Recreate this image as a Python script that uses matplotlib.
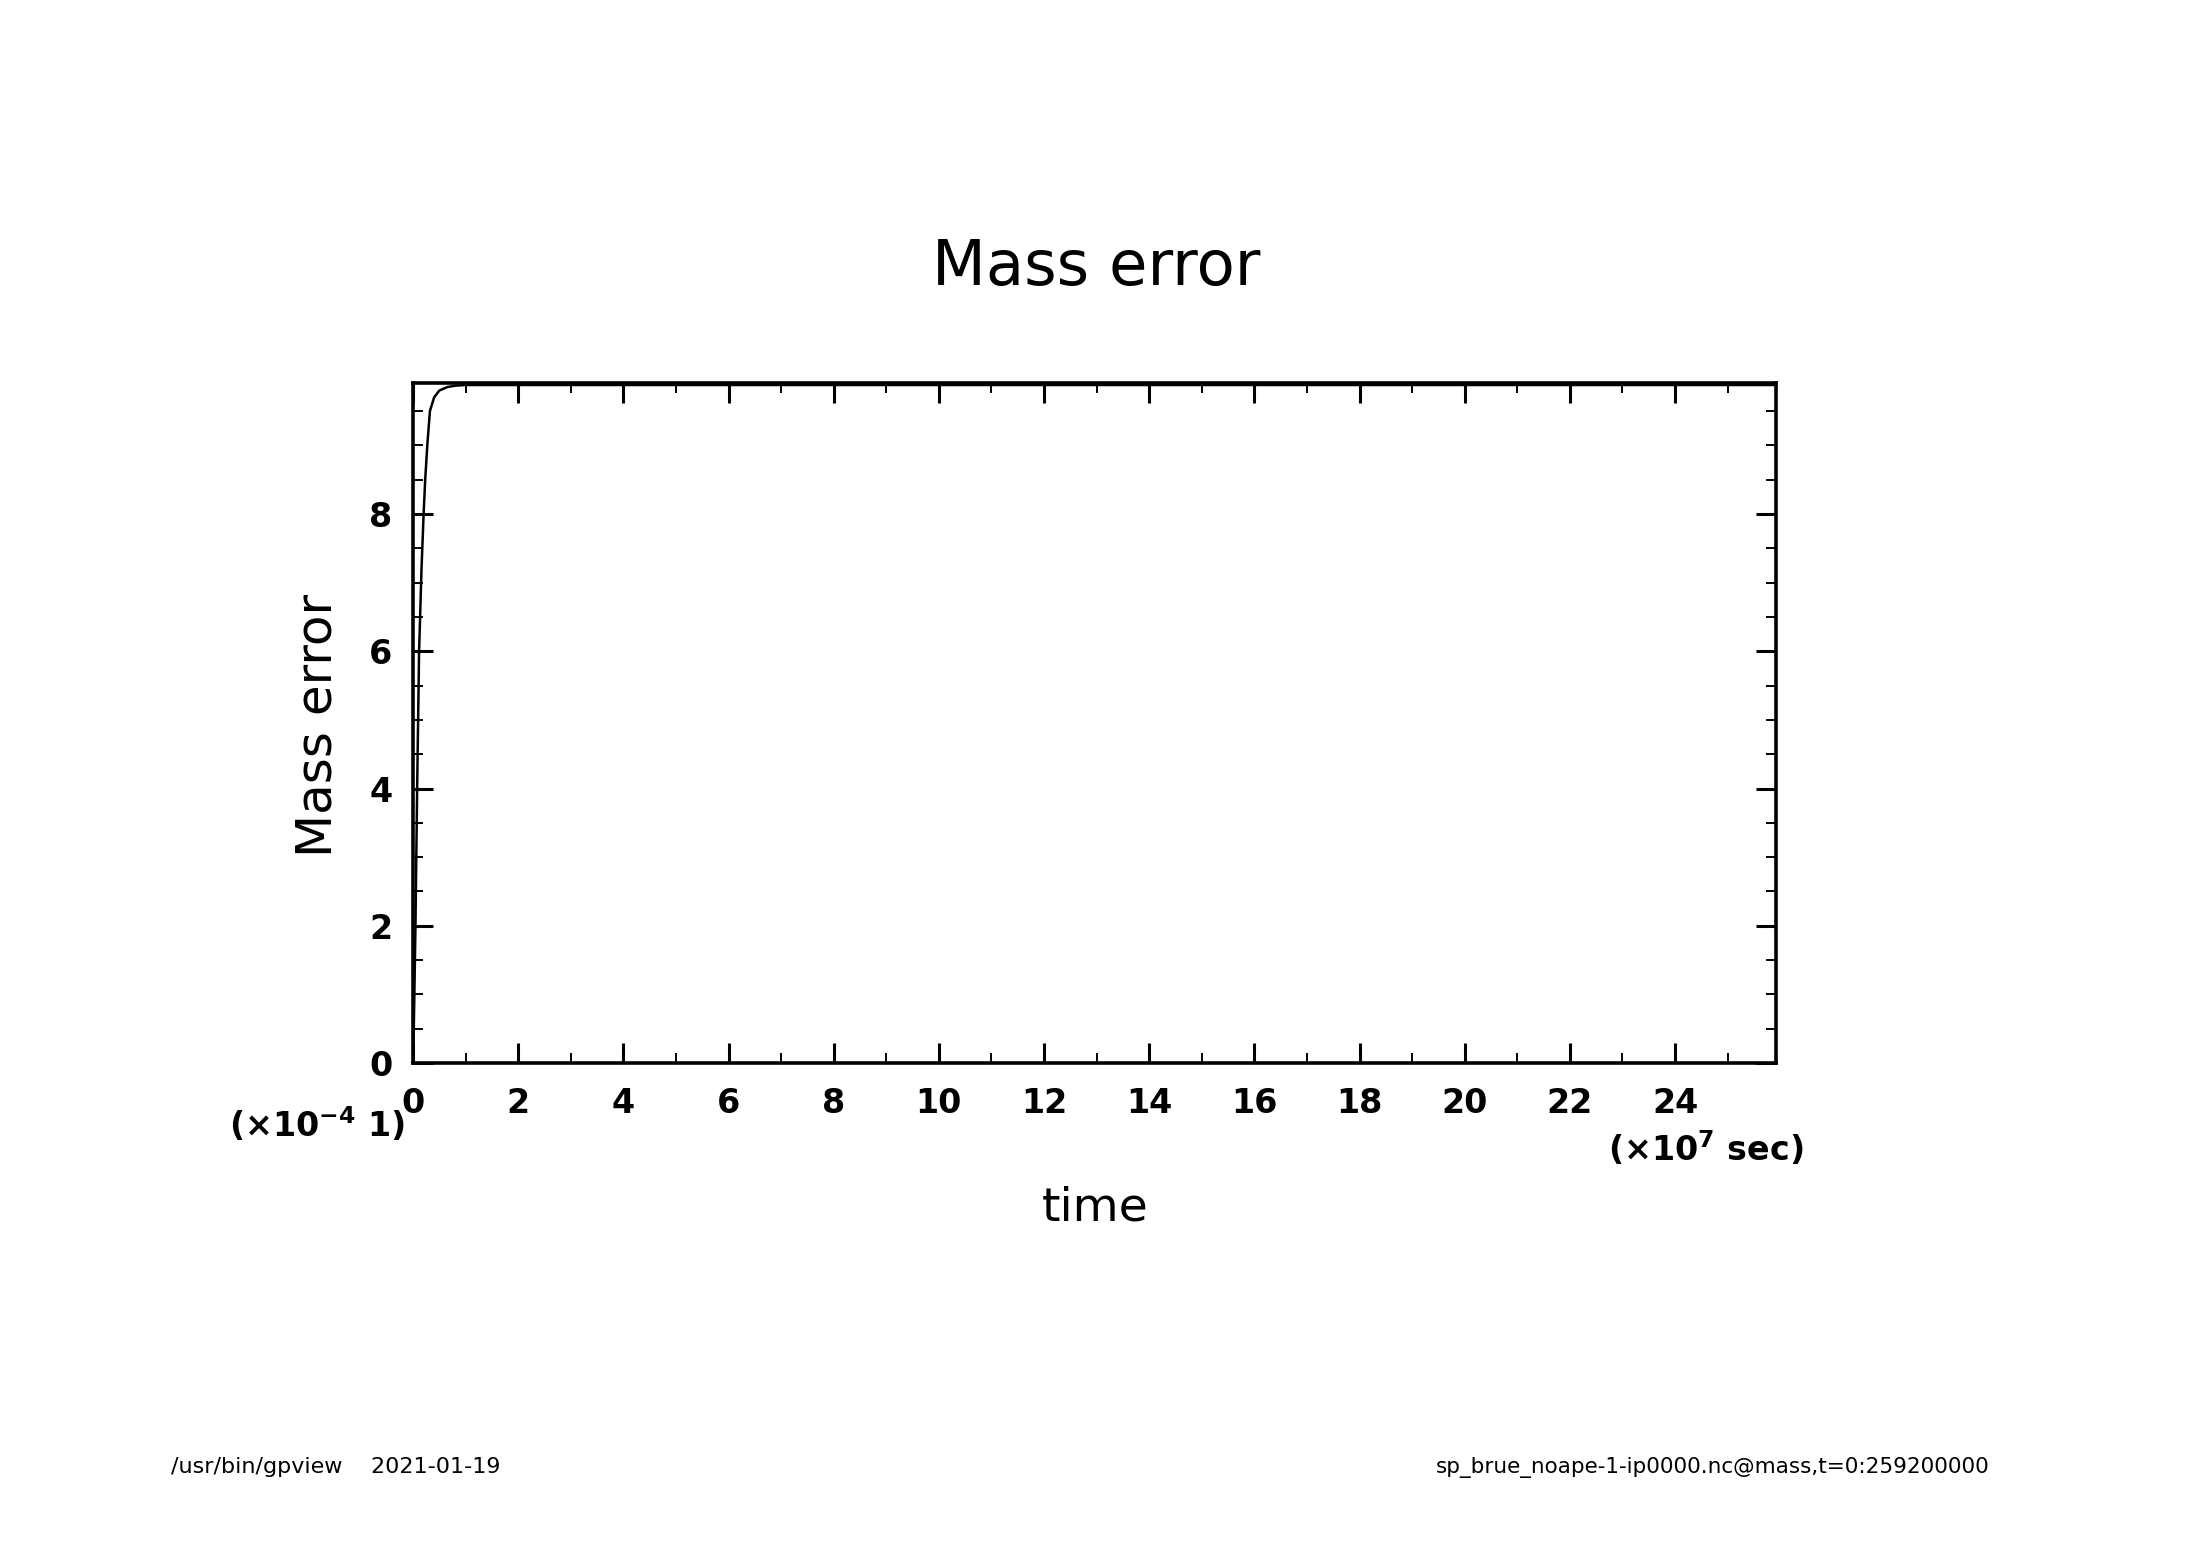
import matplotlib
matplotlib.use("Agg")
import matplotlib.pyplot as plt
from matplotlib.ticker import MultipleLocator

# time in units of 1e7 sec, mass error in units of 1e-4
time_1e7 = [0.0, 0.02, 0.045, 0.077, 0.114, 0.16, 0.2, 0.23, 0.27, 0.32,
            0.4, 0.5, 0.65, 0.8, 1.0, 2.0, 4.0, 8.0, 12.0, 16.0, 20.0, 24.0, 25.92]
mass_err_1e4 = [0.0, 0.8, 2.0, 4.0, 6.0, 7.2, 8.0, 8.5, 9.0, 9.5,
                9.7, 9.8, 9.85, 9.87, 9.88, 9.88, 9.88, 9.88, 9.88, 9.88, 9.88, 9.88, 9.88]

x_major = list(range(0, 26, 2))
y_major = [0, 2, 4, 6, 8]

plt.rcParams['font.family'] = ['DejaVu Sans']

fig = plt.figure(figsize=(21.88, 15.46), dpi=100)
ax = fig.add_axes([0.1888, 0.3124, 0.6229, 0.4399])

ax.plot(time_1e7, mass_err_1e4, color="black", lw=1.8)

ax.set_xlim(0, 25.92)
ax.set_ylim(0, 9.91)
ax.set_xticks(x_major)
ax.set_yticks(y_major)
ax.xaxis.set_minor_locator(MultipleLocator(1))
ax.yaxis.set_minor_locator(MultipleLocator(0.5))

ax.tick_params(which="both", direction="in", top=True, right=True,
               labelsize=24, colors="black")
ax.tick_params(which="major", length=14.4, width=2.2)
ax.tick_params(which="minor", length=7.2, width=1.4)
ax.tick_params(axis="x", which="major", pad=17)
ax.tick_params(axis="y", which="major", pad=15)
for lab in ax.get_xticklabels() + ax.get_yticklabels():
    lab.set_fontweight("bold")
for s in ax.spines.values():
    s.set_linewidth(2.6)

fig.text(0.501, 1 - 268 / 1546, "Mass error", ha="center", va="center", fontsize=45)
fig.text(0.5005, 1 - 1208 / 1546, "time", ha="center", va="center", fontsize=34)
fig.text(317 / 2188, 1 - 725 / 1546, "Mass error", ha="center", va="center",
         rotation=90, fontsize=36)

fig.text(405 / 2188, 1 - 1125 / 1546, r"(×10$^{\mathbf{-4}}$ 1)",
         ha="right", va="center", fontsize=24, fontweight="bold")
fig.text(1803 / 2188, 1 - 1149 / 1546, r"(×10$^{\mathbf{7}}$ sec)",
         ha="right", va="center", fontsize=24, fontweight="bold")

fig.text(171 / 2188, 1 - 1467 / 1546, "/usr/bin/gpview    2021-01-19",
         ha="left", va="center", fontsize=16)
fig.text(1990 / 2188, 1 - 1467 / 1546, "sp_brue_noape-1-ip0000.nc@mass,t=0:259200000",
         ha="right", va="center", fontsize=15.5)

fig.savefig("out.png", dpi=100)
